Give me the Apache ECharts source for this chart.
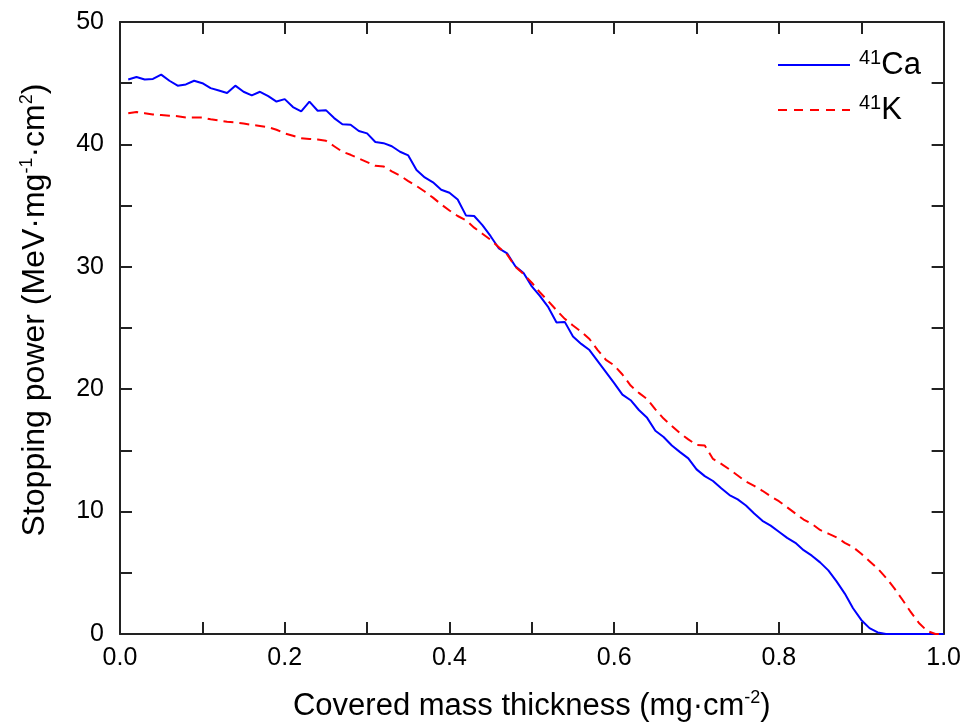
<!DOCTYPE html>
<html>
<head>
<meta charset="utf-8">
<script src="https://cdn.jsdelivr.net/npm/echarts@6/dist/echarts.min.js"></script>
<style>
  html, body { margin: 0; padding: 0; background: #fff; }
  #main { width: 964px; height: 728px; }
</style>
</head>
<body>
<div id="main"></div>
<script>
// covered mass thickness (mg/cm2)
var thickness = [
  0.01,0.02,0.03,0.04,0.05,0.06,0.07,0.08,0.09,0.10,
  0.11,0.12,0.13,0.14,0.15,0.16,0.17,0.18,0.19,0.20,
  0.21,0.22,0.23,0.24,0.25,0.26,0.27,0.28,0.29,0.30,
  0.31,0.32,0.33,0.34,0.35,0.36,0.37,0.38,0.39,0.40,
  0.41,0.42,0.43,0.44,0.45,0.46,0.47,0.48,0.49,0.50,
  0.51,0.52,0.53,0.54,0.55,0.56,0.57,0.58,0.59,0.60,
  0.61,0.62,0.63,0.64,0.65,0.66,0.67,0.68,0.69,0.70,
  0.71,0.72,0.73,0.74,0.75,0.76,0.77,0.78,0.79,0.80,
  0.81,0.82,0.83,0.84,0.85,0.86,0.87,0.88,0.89,0.90,
  0.91,0.92,0.93,0.94,0.95,0.96,0.97,0.98,0.99,1.00
];
// stopping power 41Ca
var ca41 = [
  45.3,45.5,45.3,45.35,45.7,45.2,44.8,44.9,45.2,45.0,
  44.6,44.4,44.2,44.8,44.3,44.0,44.3,43.95,43.5,43.7,
  43.05,42.7,43.5,42.75,42.8,42.15,41.65,41.6,41.1,40.9,
  40.2,40.1,39.85,39.4,39.1,37.9,37.3,36.9,36.3,36.05,
  35.5,34.2,34.15,33.4,32.5,31.5,31.1,30.05,29.5,28.4,
  27.6,26.7,25.45,25.5,24.3,23.7,23.2,22.3,21.4,20.5,
  19.56,19.1,18.3,17.66,16.6,16.1,15.4,14.86,14.35,13.45,
  12.9,12.5,11.9,11.35,11.0,10.5,9.85,9.25,8.85,8.35,
  7.85,7.45,6.85,6.4,5.85,5.2,4.3,3.3,2.1,1.15,
  0.48,0.13,0,0,0,0,0,0,0,0
];
// stopping power 41K
var k41 = [
  42.55,42.65,42.55,42.45,42.4,42.35,42.3,42.2,42.2,42.2,
  42.05,41.95,41.85,41.8,41.7,41.6,41.5,41.4,41.2,40.9,
  40.7,40.5,40.45,40.4,40.3,39.85,39.4,39.15,38.85,38.55,
  38.25,38.2,37.8,37.45,37.0,36.6,36.15,35.65,35.1,34.6,
  34.15,33.8,33.2,32.7,32.2,31.6,31.0,30.0,29.4,28.7,
  27.9,27.2,26.45,25.75,25.2,24.7,24.1,23.2,22.4,21.95,
  21.2,20.3,19.7,19.2,18.35,17.6,17.0,16.4,15.9,15.45,
  15.4,14.3,13.9,13.45,12.95,12.45,12.1,11.7,11.25,10.85,
  10.35,9.85,9.35,9.0,8.5,8.2,7.9,7.45,7.1,6.55,
  5.95,5.35,4.6,3.75,2.8,1.8,0.9,0.25,0,0
];

var font = 'Liberation Sans, Arial, sans-serif';
var axisColor = '#222';

function pairs(xs, ys) {
  var out = [];
  for (var i = 0; i < xs.length; i++) out.push([xs[i], ys[i]]);
  return out;
}

// frame axis (top / right): ticks only
function frameAxis(pos, min, max, step) {
  return {
    type: 'value', position: pos, min: min, max: max, interval: step,
    axisLine: { show: true, onZero: false, lineStyle: { color: axisColor, width: 2 } },
    axisTick: { show: true, inside: true, length: 12, lineStyle: { color: axisColor, width: 2 } },
    minorTick: { show: true, splitNumber: 2, length: 12, lineStyle: { color: axisColor, width: 2 } },
    axisLabel: { show: false },
    splitLine: { show: false }
  };
}

var myChart = echarts.init(document.getElementById('main'));
var supStyle = { fontSize: 18, lineHeight: 18, verticalAlign: 'top', fontFamily: font, color: '#000' };

option = {
  animation: false,
  backgroundColor: '#fff',
  grid: { left: 120, right: 19, top: 22, bottom: 93 },
  legend: {
    orient: 'vertical',
    left: 778,
    top: 48,
    padding: 0,
    itemWidth: 72,
    itemHeight: 14,
    itemGap: 11,
    textStyle: {
      fontFamily: font, fontSize: 31, color: '#000', lineHeight: 34,
      rich: {
        sup: { fontSize: 20, lineHeight: 20, verticalAlign: 'top', fontFamily: font, color: '#000', padding: [0, 0, 0, 4] },
        main: { fontSize: 31, lineHeight: 34, fontFamily: font, color: '#000' }
      }
    },
    formatter: function(name) {
      return '{sup|41}{main|' + name.replace('41', '') + '}';
    },
    data: [
      { name: '41Ca', icon: 'path://M0,6 L72,6 L72,8 L0,8 Z', itemStyle: { color: '#0000FF' } },
      { name: '41K', icon: 'path://M0,6 L9,6 L9,8 L0,8 Z M16,6 L25,6 L25,8 L16,8 Z M32,6 L41,6 L41,8 L32,8 Z M48,6 L57,6 L57,8 L48,8 Z M64,6 L72,6 L72,8 L64,8 Z', itemStyle: { color: '#FF0000' } }
    ]
  },
  xAxis: [{
    type: 'value', min: 0, max: 1, interval: 0.2,
    name: 'Covered mass thickness (mg·cm{sup|-2})',
    nameLocation: 'middle', nameGap: 55,
    nameTextStyle: { fontFamily: font, fontSize: 31, color: '#000', lineHeight: 34, rich: { sup: supStyle } },
    axisLine: { show: true, onZero: false, lineStyle: { color: axisColor, width: 2 } },
    axisTick: { show: true, inside: true, length: 12, lineStyle: { color: axisColor, width: 2 } },
    minorTick: { show: true, splitNumber: 2, length: 12, lineStyle: { color: axisColor, width: 2 } },
    axisLabel: { fontFamily: font, fontSize: 25, color: '#000', margin: 12,
      formatter: function(v) { return v.toFixed(1); } },
    splitLine: { show: false }
  }, frameAxis('top', 0, 1, 0.2)],
  yAxis: [{
    type: 'value', min: 0, max: 50, interval: 10,
    name: 'Stopping power (MeV·mg{sup|-1}·cm{sup|2})',
    nameLocation: 'middle', nameGap: 68,
    nameTextStyle: { fontFamily: font, fontSize: 32, color: '#000', lineHeight: 34,
      padding: [0, 0, 0, 36], rich: { sup: supStyle } },
    axisLine: { show: true, onZero: false, lineStyle: { color: axisColor, width: 2 } },
    axisTick: { show: true, inside: true, length: 12, lineStyle: { color: axisColor, width: 2 } },
    minorTick: { show: true, splitNumber: 2, length: 12, lineStyle: { color: axisColor, width: 2 } },
    axisLabel: { fontFamily: font, fontSize: 25, color: '#000', margin: 16 },
    splitLine: { show: false }
  }, frameAxis('right', 0, 50, 10)],
  series: [{
    name: '41Ca',
    type: 'line',
    data: pairs(thickness, ca41),
    showSymbol: false, symbol: 'none',
    lineStyle: { color: '#0000FF', width: 2 },
    itemStyle: { color: '#0000FF' }
  }, {
    name: '41K',
    type: 'line',
    data: pairs(thickness, k41),
    showSymbol: false, symbol: 'none',
    lineStyle: { color: '#FF0000', width: 2, type: [10, 6] },
    itemStyle: { color: '#FF0000' }
  }]
};
myChart.setOption(option);
</script>
</body>
</html>
